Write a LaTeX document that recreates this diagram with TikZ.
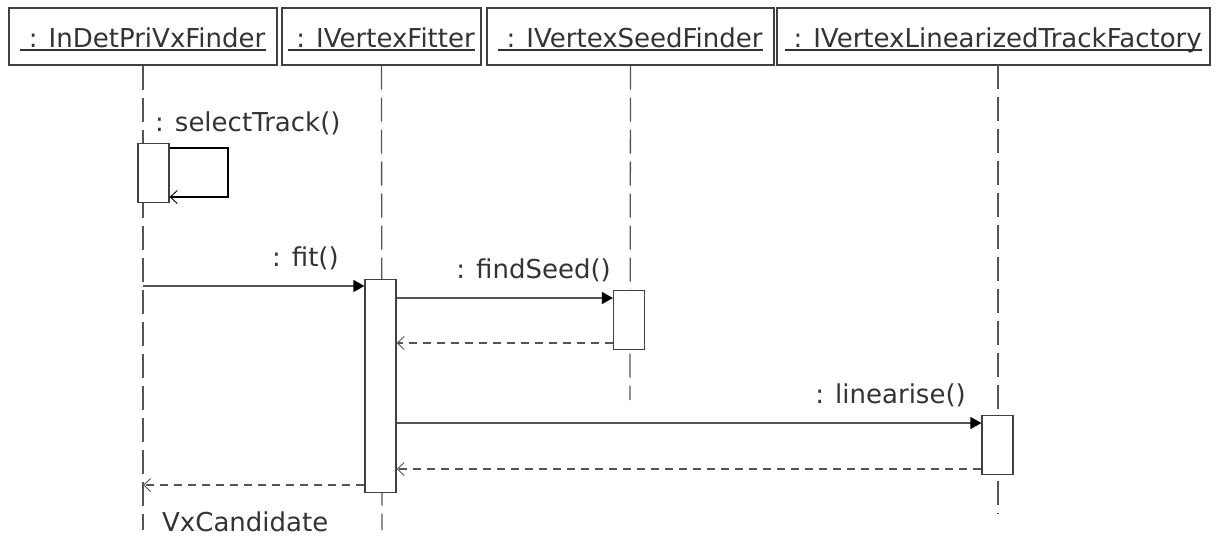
\documentclass[tikz,border=0pt]{standalone}
\usepackage{fontspec}
\setmainfont{DejaVu Sans}
\usetikzlibrary{arrows.meta}
\definecolor{txt}{HTML}{333333}
\definecolor{ln}{HTML}{555555}
\definecolor{bx}{HTML}{404040}
\begin{document}
\begin{tikzpicture}[x=1pt,y=-1pt,
  hdr/.style={draw=bx,line width=1.2pt,fill=white,minimum height=57pt,inner sep=0pt},
  hdrtext/.style={text=txt,font=\fontsize{26}{31}\selectfont,inner sep=0pt,anchor=base},
  msgtext/.style={text=txt,font=\fontsize{26}{31}\selectfont,inner sep=0pt},
  uline/.style={draw=txt,line width=1.3pt},
  life/.style={draw=ln,line width=1.3pt,dash pattern=on 24pt off 8pt},
  act/.style={draw=bx,line width=1.2pt,fill=white,minimum width=31pt,inner sep=0pt,anchor=north},
  call/.style={draw=ln,line width=1.3pt,-{Triangle[length=11pt,width=12pt,color=black]}},
  ret/.style={draw=ln,line width=1.1pt,dash pattern=on 8pt off 6pt,-{Straight Barb[length=7pt,width=13pt,line width=0.9pt]}},
  self/.style={draw=black,line width=1.1pt,-{Straight Barb[length=7pt,width=13pt,line width=0.9pt]}}
]
\useasboundingbox (0,0) rectangle (1217,536);

% header boxes
\node[hdr,minimum width=268pt] (h1) at (143,36.5) {};
\node[hdr,minimum width=199pt] (h2) at (381.5,36.5) {};
\node[hdr,minimum width=287pt] (h3) at (630.5,36.5) {};
\node[hdr,minimum width=433pt] (h4) at (993.5,36.5) {};

\node[hdrtext] (t1) at (143,47) {\ : InDetPriVxFinder};
\node[hdrtext] (t2) at (381.5,47) {\ : IVertexFitter};
\node[hdrtext] (t3) at (630.5,47) {\ : IVertexSeedFinder};
\node[hdrtext] (t4) at (993.5,47) {\ : IVertexLinearizedTrackFactory};
\foreach \t in {t1,t2,t3,t4}
  \draw[uline] ([yshift=-3pt]\t.base west) -- ([yshift=-3pt]\t.base east);

% lifeline ends
\coordinate (b4) at (998,65);
\coordinate (e1) at (143,530);
\coordinate (e2) at (382,530);
\coordinate (e3) at (630,400);
\coordinate (e4) at (998,514);

% lifelines
\draw[life] (h1.south) -- (e1);
\draw[life] (h2.south) -- (e2);
\draw[life] (h3.south) -- (e3);
\draw[life] (b4) -- (e4);

% activation boxes
\node[act,minimum height=59pt] (a1) at (153.5,143) {};
\node[act,minimum height=213pt] (a2) at (380.5,279) {};
\node[act,minimum height=59pt] (a3) at (629,290) {};
\node[act,minimum height=59pt] (a4) at (997.5,415) {};

% self call
\coordinate (s1) at (228,148);
\coordinate (s2) at (228,197);
\draw[self] (a1.east |- s1) -- (s1) -- (s2) -- (a1.east |- s2);
\node[msgtext,anchor=base west] (m0) at (155,131) {: selectTrack()};

% fit
\coordinate (y1) at (0,286);
\draw[call] (h1.south |- y1) -- (a2.west |- y1);
\node[msgtext,anchor=base east] (m1) at (339,266) {: fit()};

% findSeed
\coordinate (y2) at (0,298);
\draw[call] (a2.east |- y2) -- (a3.west |- y2);
\node[msgtext,anchor=base east] (m2) at (611,278) {: findSeed()};
\coordinate (y3) at (0,343);
\draw[ret] (a3.west |- y3) -- (a2.east |- y3);

% linearise
\coordinate (y4) at (0,423);
\draw[call] (a2.east |- y4) -- (a4.west |- y4);
\node[msgtext,anchor=base east] (m3) at (966,403) {: linearise()};
\coordinate (y5) at (0,469);
\draw[ret] (a4.west |- y5) -- (a2.east |- y5);

% return to finder
\coordinate (y6) at (0,485);
\draw[ret] (a2.west |- y6) -- (h1.south |- y6);
\node[msgtext,anchor=base west] (m4) at (162,531) {VxCandidate};
\end{tikzpicture}
\end{document}
